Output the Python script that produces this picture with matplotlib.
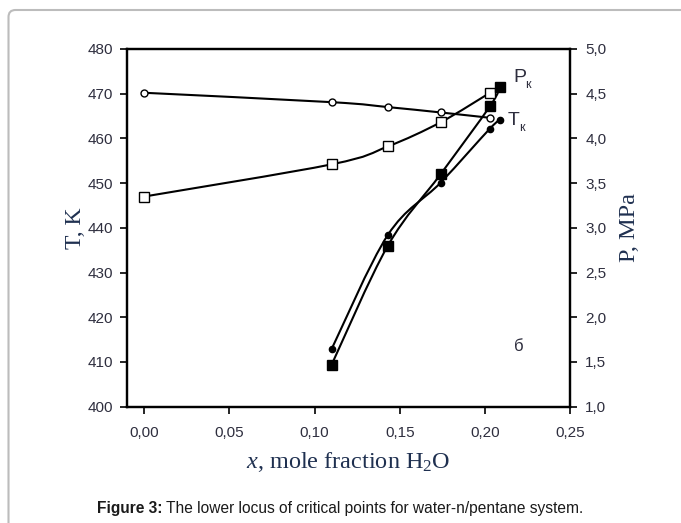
import numpy as np
import matplotlib
matplotlib.use("Agg")
import matplotlib.pyplot as plt
from matplotlib.path import Path
from matplotlib.patches import PathPatch, FancyBboxPatch
from matplotlib.transforms import IdentityTransform

plt.rcParams["mathtext.fontset"] = "custom"
plt.rcParams["mathtext.it"] = "Liberation Serif:italic"
plt.rcParams["mathtext.rm"] = "Liberation Serif"

# data
x_open = [0.0, 0.110, 0.143, 0.174, 0.203]
T_open = [470.2, 468.1, 467.0, 465.8, 464.6]          # open circles, K
P_open = [3.35, 3.71, 3.91, 4.18, 4.51]               # open squares, MPa

x_fill_T = [0.110, 0.143, 0.174, 0.203, 0.209]
T_fill = [412.9, 438.4, 450.1, 462.2, 464.1]          # filled circles, K
x_fill_P = [0.110, 0.143, 0.174, 0.203, 0.209]
P_fill = [1.47, 2.80, 3.60, 4.36, 4.58]               # filled squares, MPa

x_ticks = [0.0, 0.05, 0.10, 0.15, 0.20, 0.25]
T_ticks = [400, 410, 420, 430, 440, 450, 460, 470, 480]
P_ticks = [1.0, 1.5, 2.0, 2.5, 3.0, 3.5, 4.0, 4.5, 5.0]

sans = "Liberation Sans"
tick_col = "#2e2e3e"
lab_col = "#1f3050"


def smooth(ax, xs, ys):
    # excel-like smoothed line: cubic bezier segments (catmull-rom)
    p = np.column_stack([xs, ys]).astype(float)
    n = len(p)
    verts = [p[0]]
    codes = [Path.MOVETO]
    for i in range(n - 1):
        p0 = p[i - 1] if i > 0 else p[i]
        p3 = p[i + 2] if i + 2 < n else p[i + 1]
        c1 = p[i] + (p[i + 1] - p0) / 6.0
        c2 = p[i + 1] - (p3 - p[i]) / 6.0
        verts += [c1, c2, p[i + 1]]
        codes += [Path.CURVE4] * 3
    ax.add_patch(PathPatch(Path(verts, codes), fill=False, lw=1.5,
                           ec="black", zorder=2))


fig = plt.figure(figsize=(6.81, 5.23), dpi=100)
ax = fig.add_axes([0.186, 0.2224, 0.651, 0.684])
ax2 = ax.twinx()

smooth(ax, x_open, T_open)
smooth(ax2, x_open, P_open)
smooth(ax, x_fill_T, T_fill)
smooth(ax2, x_fill_P, P_fill)

ax.plot(x_open, T_open, "o", ms=5, mfc="white", mec="black", mew=1, zorder=3)
ax2.plot(x_open, P_open, "s", ms=7, mfc="white", mec="black", mew=1, zorder=3)
ax.plot(x_fill_T, T_fill, "o", ms=4.5, mfc="black", mec="black", zorder=3)
ax2.plot(x_fill_P, P_fill, "s", ms=7, mfc="black", mec="black", zorder=3)

ax.set_xlim(-0.0104, 0.25)
ax.set_ylim(400, 480)
ax2.set_ylim(1.0, 5.0)

ax.set_xticks(x_ticks)
ax.set_xticklabels([f"{v:.2f}".replace(".", ",") for v in x_ticks])
ax.set_yticks(T_ticks)
ax.set_yticklabels([str(v) for v in T_ticks])
ax2.set_yticks(P_ticks)
ax2.set_yticklabels([f"{v:.1f}".replace(".", ",") for v in P_ticks])

for a in (ax, ax2):
    for s in a.spines.values():
        s.set_linewidth(1.6)
    a.tick_params(direction="out", length=5, width=1.2, colors="black",
                  labelcolor=tick_col, labelsize=11)
    for lbl in a.get_xticklabels() + a.get_yticklabels():
        lbl.set_family(sans)
ax.tick_params(axis="x", pad=9)
ax.tick_params(axis="y", pad=5)
ax2.tick_params(axis="y", pad=6)

ax.set_ylabel("T, K", family="Liberation Serif", fontsize=17, color=lab_col,
              labelpad=1)
ax2.set_ylabel("P, MPa", family="Liberation Serif", fontsize=17.5,
               color=lab_col, labelpad=9)
ax.set_xlabel(r"$x$, mole fraction H$_2$O", family="Liberation Serif",
              fontsize=17.5, color=lab_col, labelpad=7)

ax.text(0.2169, 472.6, "P", family=sans, fontsize=14, color=tick_col,
        va="baseline")
ax.text(0.2239, 471.2, "к", family=sans, fontsize=9, color=tick_col,
        va="baseline")
ax.text(0.2134, 463.0, "T", family=sans, fontsize=14, color=tick_col,
        va="baseline")
ax.text(0.2204, 461.6, "к", family=sans, fontsize=9, color=tick_col,
        va="baseline")
ax.text(0.2170, 412.5, "б", family=sans, fontsize=12, color=tick_col)

# caption: bold lead followed by plain text
cy = 1 - 508 / 523
bold = fig.text(97 / 681, cy, "Figure 3:", family=sans, fontsize=11.2,
                weight="bold", va="center", color="#1a1a1a")
bb = bold.get_window_extent(renderer=fig.canvas.get_renderer())
fig.text(bb.x1 / 681, cy,
         " The lower locus of critical points for water-n/pentane system.",
         family=sans, fontsize=11.2, va="center", color="#1a1a1a")

fig.patches.append(FancyBboxPatch((8.5, -30), 720, 543.0,
                                  boxstyle="round,pad=0,rounding_size=7",
                                  transform=IdentityTransform(), fill=False,
                                  ec="#bcbcbc", lw=1.5))

fig.savefig("out.png", dpi=100)
